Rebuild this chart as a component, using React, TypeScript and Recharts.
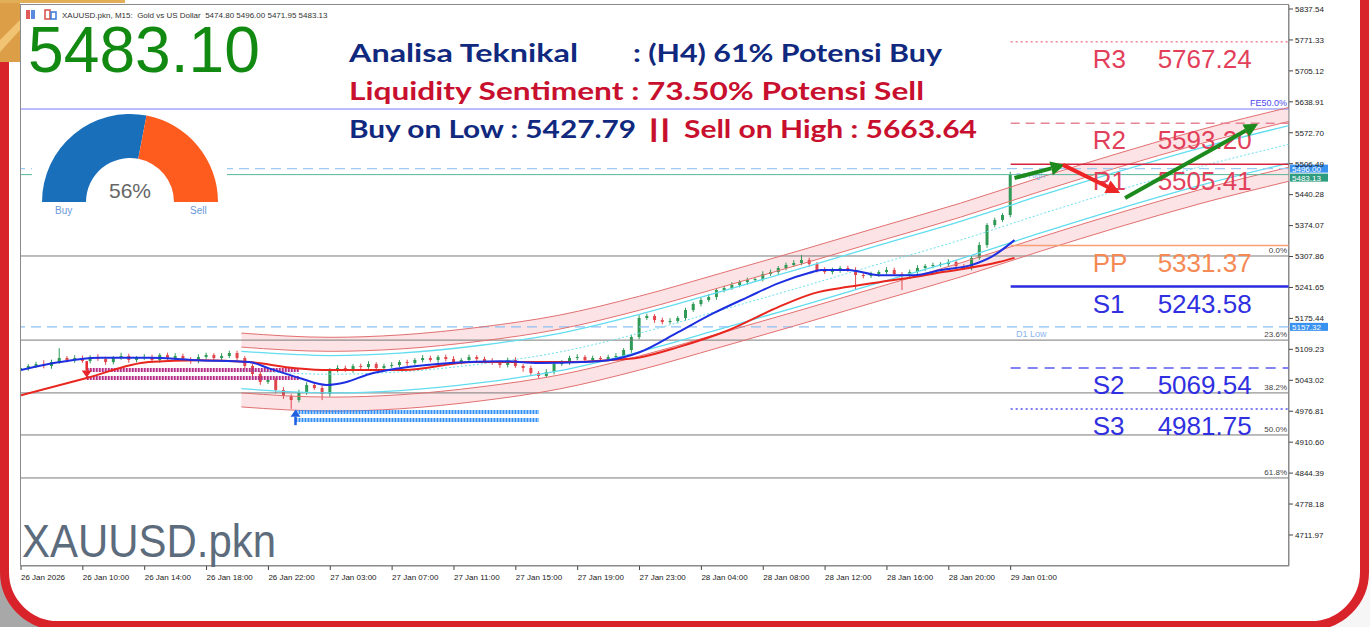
import {
  Area,
  Bar,
  Cell,
  ComposedChart,
  Line,
  Pie,
  PieChart,
  ReferenceLine,
  XAxis,
  YAxis,
} from 'recharts';

const W = 1370;
const H = 627;
const AXIS_FONT = '"Liberation Sans", Arial, sans-serif';
const TEXT_FONT = 'Lato, "Open Sans", sans-serif';

// x axis: one unit = one M15 bar, labels every 16 bars
const timeTicks = [0, 16, 32, 48, 64, 80, 96, 112, 128, 144, 160, 176, 192, 208, 224, 240, 256];
const timeLabels = [
  '26 Jan 2026', '26 Jan 10:00', '26 Jan 14:00', '26 Jan 18:00', '26 Jan 22:00',
  '27 Jan 03:00', '27 Jan 07:00', '27 Jan 11:00', '27 Jan 15:00', '27 Jan 19:00',
  '27 Jan 23:00', '28 Jan 04:00', '28 Jan 08:00', '28 Jan 12:00', '28 Jan 16:00',
  '28 Jan 20:00', '29 Jan 01:00',
];
const priceTicks = [
  5837.54, 5771.33, 5705.12, 5638.91, 5572.7, 5506.49, 5440.28, 5374.07, 5307.86,
  5241.65, 5175.44, 5109.23, 5043.02, 4976.81, 4910.6, 4844.39, 4778.18, 4711.97,
];

// closes every 2 bars (30 min)
const closes = [
  5069.3, 5073.6, 5077.8, 5073.6, 5082.1, 5090.7, 5086.4, 5090.7, 5084.3, 5092.8,
  5088.5, 5082.1, 5090.7, 5095.0, 5086.4, 5090.7, 5092.8, 5086.4, 5097.1, 5090.7,
  5095.0, 5088.5, 5084.3, 5092.8, 5097.1, 5090.7, 5095.0, 5101.4, 5090.7, 5073.6,
  5056.5, 5039.3, 5043.6, 5022.2, 5009.4, 5000.8, 5017.9, 5032.9, 5026.5, 5013.6,
  5065.0, 5069.3, 5065.0, 5073.6, 5071.4, 5077.8, 5069.3, 5073.6, 5075.7, 5082.1,
  5080.0, 5086.4, 5090.7, 5086.4, 5092.8, 5088.5, 5082.1, 5086.4, 5092.8, 5088.5,
  5084.3, 5080.0, 5075.7, 5086.4, 5073.6, 5069.3, 5058.6, 5052.2, 5060.7, 5077.8,
  5082.1, 5090.7, 5092.8, 5086.4, 5090.7, 5088.5, 5092.8, 5095.0, 5107.8, 5135.6,
  5176.3, 5180.6, 5172.0, 5167.7, 5169.9, 5176.3, 5193.4, 5206.2, 5214.8, 5221.2,
  5236.2, 5240.5, 5246.9, 5253.3, 5257.6, 5259.7, 5270.4, 5274.7, 5283.3, 5289.7,
  5294.0, 5300.4, 5291.8, 5279.0, 5274.7, 5279.0, 5283.3, 5279.0, 5268.3, 5266.2,
  5270.4, 5274.7, 5279.0, 5270.4, 5266.2, 5274.7, 5283.3, 5287.6, 5289.7, 5291.8,
  5296.1, 5287.6, 5283.3, 5304.7, 5332.5, 5375.3, 5386.0, 5396.7, 5483.1,
];
const firstOpen = 5066;
const wickUp = [
  6, 4, 5, 8, 5, 21, 4, 6, 5, 4, 6, 5, 4, 7, 5, 4, 6, 5, 4, 5,
  6, 5, 4, 6, 5, 4, 6, 5, 5, 4, 4, 6, 5, 5, 6, 4, 5, 6, 4, 5,
  4, 6, 5, 4, 5, 6, 4, 5, 6, 4, 5, 4, 6, 5, 4, 5, 6, 4, 5, 4,
  5, 6, 4, 5, 6, 4, 5, 4, 6, 5, 4, 5, 6, 4, 5, 4, 5, 6, 4, 5,
  6, 5, 4, 5, 6, 4, 5, 4, 5, 6, 4, 5, 6, 4, 5, 4, 6, 5, 4, 5,
  6, 11, 5, 4, 6, 5, 4, 5, 6, 4, 5, 4, 6, 5, 4, 5, 6, 4, 5, 4,
  6, 5, 4, 5, 6, 4, 5, 4, 6,
];
const wickDown = [
  5, 6, 4, 5, 6, 4, 5, 6, 4, 5, 4, 6, 5, 4, 6, 5, 4, 5, 6, 4,
  5, 4, 6, 5, 4, 5, 6, 4, 5, 6, 5, 6, 4, 7, 6, 19, 5, 6, 4, 13,
  6, 5, 4, 6, 5, 4, 5, 6, 4, 5, 6, 4, 5, 4, 6, 5, 4, 5, 6, 4,
  5, 4, 6, 5, 4, 8, 6, 5, 4, 5, 4, 6, 5, 4, 5, 6, 4, 5, 4, 6,
  5, 4, 6, 5, 4, 5, 6, 4, 5, 4, 6, 5, 4, 5, 6, 4, 5, 4, 6, 5,
  4, 5, 6, 5, 4, 5, 6, 4, 32, 5, 4, 6, 5, 4, 30, 5, 4, 6, 5, 4,
  6, 5, 4, 5, 4, 6, 5, 4, 5,
];

// moving averages (blue fast, red slow)
const maFastIdx = [0, 10, 20, 33, 46, 59, 64, 72, 79, 84, 90, 98, 111, 124, 134, 145, 152, 160, 170, 179, 188, 196, 204, 207, 214, 222, 231, 238, 246, 251, 257];
const maFastVal = [5065, 5082, 5091, 5091, 5086, 5082, 5069, 5048, 5033, 5039, 5056, 5069, 5080, 5084, 5080, 5082, 5086, 5103, 5146, 5186, 5221, 5251, 5273, 5279, 5279, 5268, 5268, 5279, 5290, 5307, 5343];
const maSlowIdx = [0, 17, 33, 46, 59, 71, 80, 99, 117, 141, 152, 160, 170, 183, 196, 205, 214, 222, 231, 238, 253, 257];
const maSlowVal = [5011, 5048, 5082, 5086, 5082, 5069, 5065, 5065, 5082, 5082, 5086, 5092, 5114, 5150, 5200, 5229, 5243, 5253, 5264, 5274, 5296, 5305];

// regression channel
const channelIdx = [57, 80, 98, 119, 139, 160, 181, 202, 222, 243, 264, 284, 305, 328];
const channelMid = [5065, 5056, 5061, 5078, 5103, 5144, 5193, 5243, 5292, 5343, 5399, 5450, 5500, 5548];
const bandOuter = 79;
const bandInner = 49;
const bandCyan = 40;

// pivots
const pivotNames = ['R3', 'R2', 'R1', 'PP', 'S1', 'S2', 'S3'];
const pivotValues = [5767.24, 5593.2, 5505.41, 5331.37, 5243.58, 5069.54, 4981.75];
const pivotStart = 256;

// fibonacci retracement
const fibLabels = ['0.0%', '23.6%', '38.2%', '50.0%', '61.8%'];
const fibValues = [5309, 5129, 5016, 4926, 4834];

const feLevel = 5623.5;
const dayHigh = 5496.0;
const dayLow = 5157.32;
const bidPrice = 5483.13;

// signal stripes and arrows
const stripeFrom = [17, 17, 71, 71];
const stripeTo = [72, 72, 134, 134];
const stripeLevel = [5065, 5048, 4975, 4958];
const stripeSide = ['sell', 'sell', 'buy', 'buy'];

const arrowFromX = [257, 269.5, 285.6, 17, 71];
const arrowFromY = [5476, 5504, 5433, 5084, 4947];
const arrowToX = [270, 284.3, 320, 17, 71];
const arrowToY = [5504, 5444, 5592, 5049, 4980];
const arrowKind = ['up', 'down', 'up', 'sellMark', 'buyMark'];

const gaugeNames = ['Buy', 'Sell'];
const gaugeValues = [56, 44];

const candles = closes.map((close, k) => {
  const open = k === 0 ? firstOpen : closes[k - 1];
  return {
    i: k * 2,
    open,
    close,
    high: Math.max(open, close) + wickUp[k],
    low: Math.min(open, close) - wickDown[k],
  };
});

const maFast = maFastIdx.map((i, n) => ({ i, v: maFastVal[n] }));
const maSlow = maSlowIdx.map((i, n) => ({ i, v: maSlowVal[n] }));
const channel = channelIdx.map((i, n) => {
  const m = channelMid[n];
  return {
    i,
    mid: m,
    upBand: [m + bandInner, m + bandOuter],
    dnBand: [m - bandOuter, m - bandInner],
    upOuter: m + bandOuter,
    upInner: m + bandInner,
    upCyan: m + bandCyan,
    dnCyan: m - bandCyan,
    dnInner: m - bandInner,
    dnOuter: m - bandOuter,
  };
});

function Candle(props: any) {
  const { x, y, width, height, payload } = props;
  if (!payload || x == null || y == null) return null;
  const { open, close, high, low } = payload;
  const top = Math.min(y, y + height);
  const h = Math.abs(height);
  const k = h / (high - low);
  const cx = x + width / 2;
  const yo = top + (high - open) * k;
  const yc = top + (high - close) * k;
  const col = close >= open ? '#2f9a55' : '#e0474c';
  return (
    <g>
      <line x1={cx} x2={cx} y1={top} y2={top + h} stroke={col} strokeWidth={1} />
      <rect x={x} y={Math.min(yo, yc)} width={width} height={Math.max(1, Math.abs(yc - yo))} fill={col} />
    </g>
  );
}

const arrowShape = (kind: string) => (p: any) => {
  const { x1, y1, x2, y2 } = p;
  if (x1 == null) return <g />;
  const big = kind === 'up' || kind === 'down';
  const color = kind === 'up' ? '#1c8a1c' : kind === 'down' ? '#ee2525' : kind === 'sellMark' ? '#e8262a' : '#2060e0';
  const ang = Math.atan2(y2 - y1, x2 - x1);
  const L = big ? 14 : 7;
  const hw = big ? 7 : 5;
  const c = Math.cos(ang);
  const s = Math.sin(ang);
  const bx = x2 - L * c;
  const by = y2 - L * s;
  return (
    <g>
      <line x1={x1} y1={y1} x2={bx} y2={by} stroke={color} strokeWidth={big ? 4 : 2.5} />
      <polygon points={`${x2},${y2} ${bx - hw * s},${by + hw * c} ${bx + hw * s},${by - hw * c}`} fill={color} />
    </g>
  );
};

const pivotColor = (name: string) => (name[0] === 'R' ? '#e2405a' : name === 'PP' ? '#f58a55' : '#3030e0');

const pivotStroke = (n: number) => {
  const name = pivotNames[n];
  if (name === 'R3') return { stroke: '#e8485e', dash: '2 3', w: 1 };
  if (name === 'R2') return { stroke: '#e58596', dash: '9 6', w: 1.5 };
  if (name === 'R1') return { stroke: '#d6243f', dash: undefined, w: 1.5 };
  if (name === 'PP') return { stroke: '#f6a073', dash: undefined, w: 1.5 };
  if (name === 'S1') return { stroke: '#2a2ae0', dash: undefined, w: 2.5 };
  if (name === 'S2') return { stroke: '#5a5aef', dash: '10 7', w: 1.5 };
  return { stroke: '#5050f0', dash: '2 3', w: 1.5 };
};

const pivotLabel = (name: string, value: number) => (p: any) => {
  const vb = p?.viewBox;
  if (!vb) return null;
  return (
    <g fill={pivotColor(name)} fontSize={26} fontFamily={AXIS_FONT}>
      <text x={vb.x + 82} y={vb.y + 26}>{name}</text>
      <text x={vb.x + 147} y={vb.y + 26}>{value.toFixed(2)}</text>
    </g>
  );
};

const fibLabel = (text: string) => (p: any) => {
  const vb = p?.viewBox;
  if (!vb) return null;
  return (
    <text x={vb.x + vb.width - 2} y={vb.y - 3} textAnchor="end" fontSize={8} fill="#444" fontFamily={AXIS_FONT}>
      {text}
    </text>
  );
};

const priceTag = (text: string, bg: string) => (p: any) => {
  const vb = p?.viewBox;
  if (!vb) return null;
  const x = vb.x + vb.width + 1;
  return (
    <g>
      <rect x={x} y={vb.y - 4} width={38} height={8} fill={bg} />
      <text x={x + 2} y={vb.y + 3} fontSize={8} fill="#fff" fontFamily={AXIS_FONT}>{text}</text>
    </g>
  );
};

const leftText = (text: string, dx: number, dy: number, color: string, size: number) => (p: any) => {
  const vb = p?.viewBox;
  if (!vb) return null;
  return (
    <text x={vb.x + dx} y={vb.y + dy} fontSize={size} fill={color} fontFamily={AXIS_FONT}>{text}</text>
  );
};

const rightText = (text: string, color: string) => (p: any) => {
  const vb = p?.viewBox;
  if (!vb) return null;
  return (
    <text x={vb.x + vb.width - 2} y={vb.y - 3} textAnchor="end" fontSize={9} fill={color} fontFamily={AXIS_FONT}>{text}</text>
  );
};

function TimeTick(props: any) {
  const { x, y, payload } = props;
  const n = timeTicks.indexOf(payload.value);
  return (
    <text x={x} y={y + 8} fontSize={8} fill="#222" fontFamily={AXIS_FONT} textAnchor="start">
      {timeLabels[n] ?? ''}
    </text>
  );
}

function Frame() {
  return (
    <>
      <div style={{ position: 'absolute', left: 0, top: 500, width: 90, height: 127, background: '#a8a8a8' }} />
      <div
        style={{
          position: 'absolute', left: 0, top: -40, width: 1369, height: 670, boxSizing: 'border-box',
          border: '9px solid #d9232b', borderRadius: '0 0 58px 58px', background: '#fff',
        }}
      />
      <svg width={130} height={70} style={{ position: 'absolute', left: 0, top: 0 }}>
        <rect x={0} y={0} width={20} height={62} fill="#dc9f48" />
        <polygon points="0,40 20,20 20,30 0,52" fill="#f0c472" />
        <rect x={0} y={0} width={125} height={3} fill="#e3ae58" />
      </svg>
      <div
        style={{
          position: 'absolute', left: 20, top: 4, width: 1269, height: 562,
          border: '1px solid #8a8a8a', boxSizing: 'border-box',
        }}
      />
    </>
  );
}

function PriceChart() {
  return (
    <div style={{ position: 'absolute', left: 0, top: 0 }}>
      <ComposedChart width={W} height={H} data={candles} margin={{ top: 5, right: 11, bottom: 41, left: 21 }}>
        <XAxis
          dataKey="i"
          type="number"
          domain={[0, 328]}
          allowDataOverflow
          ticks={timeTicks}
          interval={0}
          tick={<TimeTick />}
          tickSize={4}
          height={20}
          axisLine={{ stroke: '#8a8a8a' }}
          tickLine={{ stroke: '#444' }}
        />
        <YAxis
          orientation="right"
          type="number"
          domain={[4645.6, 5846.1]}
          allowDataOverflow
          ticks={priceTicks}
          interval={0}
          width={70}
          tickSize={4}
          tickFormatter={(v: number) => v.toFixed(2)}
          tick={{ fontSize: 8, fill: '#222', fontFamily: AXIS_FONT }}
          axisLine={{ stroke: '#8a8a8a' }}
          tickLine={{ stroke: '#444' }}
        />

        {fibValues.map((v, n) => (
          <ReferenceLine key={'fib' + n} y={v} stroke="#7a7a7a" strokeWidth={1} label={fibLabel(fibLabels[n])} />
        ))}
        <ReferenceLine y={feLevel} stroke="#7a7aff" strokeWidth={1.2} label={rightText('FE50.0%', '#4a4af0')} />
        <ReferenceLine y={dayLow} stroke="#8cc0f2" strokeDasharray="10 6" strokeWidth={1.2} label={leftText('D1 Low', 995, 10, '#8ab6ee', 9)} />
        <ReferenceLine y={dayLow} stroke="none" label={priceTag('5157.32', '#3a92f0')} />

        <Area data={channel} dataKey="upBand" type="monotone" fill="#fbd9de" fillOpacity={0.75} stroke="none" isAnimationActive={false} />
        <Area data={channel} dataKey="dnBand" type="monotone" fill="#fbd9de" fillOpacity={0.75} stroke="none" isAnimationActive={false} />
        {['upOuter', 'upInner', 'dnInner', 'dnOuter'].map((k) => (
          <Line key={k} data={channel} dataKey={k} type="monotone" stroke="#e27070" strokeWidth={1} dot={false} isAnimationActive={false} />
        ))}
        {['upCyan', 'dnCyan'].map((k) => (
          <Line key={k} data={channel} dataKey={k} type="monotone" stroke="#62dcef" strokeWidth={1.3} dot={false} isAnimationActive={false} />
        ))}
        <Line data={channel} dataKey="mid" type="monotone" stroke="#6fe0f0" strokeDasharray="2 2" strokeWidth={1} dot={false} isAnimationActive={false} />

        {stripeLevel.map((v, n) => (
          <ReferenceLine
            key={'st' + n}
            segment={[{ x: stripeFrom[n], y: v }, { x: stripeTo[n], y: v }]}
            stroke={stripeSide[n] === 'sell' ? '#b62c86' : '#2f8ff5'}
            strokeWidth={4}
            strokeDasharray="2 1"
          />
        ))}

        <Bar dataKey={(d: any) => [d.low, d.high]} barSize={3} shape={(p: any) => <Candle {...p} />} isAnimationActive={false} />

        <Line data={maSlow} dataKey="v" type="monotone" stroke="#e8261e" strokeWidth={2} dot={false} isAnimationActive={false} />
        <Line data={maFast} dataKey="v" type="monotone" stroke="#1d2fe0" strokeWidth={2} dot={false} isAnimationActive={false} />

        <ReferenceLine y={dayHigh} stroke="#9ccaf3" strokeDasharray="10 6" strokeWidth={1.3} label={leftText('D1 High', 995, 9, '#8ab6ee', 8)} />
        <ReferenceLine y={bidPrice} stroke="#55b89a" strokeWidth={1} />
        <ReferenceLine y={dayHigh} stroke="none" label={priceTag('5496.00', '#3a92f0')} />
        <ReferenceLine y={bidPrice} stroke="none" label={(p: any) => {
          const vb = p?.viewBox;
          if (!vb) return null;
          return priceTag('5483.13', '#2e9c80')({ viewBox: { ...vb, y: vb.y + 3 } });
        }} />

        {pivotValues.map((v, n) => {
          const st = pivotStroke(n);
          return (
            <ReferenceLine
              key={'pv' + n}
              segment={[{ x: pivotStart, y: v }, { x: 328, y: v }]}
              stroke={st.stroke}
              strokeDasharray={st.dash}
              strokeWidth={st.w}
              label={pivotLabel(pivotNames[n], v)}
            />
          );
        })}

        {arrowKind.map((k, n) => (
          <ReferenceLine
            key={'ar' + n}
            segment={[{ x: arrowFromX[n], y: arrowFromY[n] }, { x: arrowToX[n], y: arrowToY[n] }]}
            shape={arrowShape(k)}
          />
        ))}
      </ComposedChart>
    </div>
  );
}

function Gauge() {
  const data = gaugeNames.map((name, n) => ({ name, value: gaugeValues[n] }));
  return (
    <div style={{ position: 'absolute', left: 32, top: 110, width: 195, height: 107, background: '#fff' }}>
      <PieChart width={195} height={107} margin={{ top: 0, right: 0, bottom: 0, left: 0 }}>
        <Pie
          data={data}
          dataKey="value"
          cx={98}
          cy={92}
          startAngle={180}
          endAngle={0}
          innerRadius={44}
          outerRadius={88}
          stroke="none"
          isAnimationActive={false}
        >
          <Cell fill="#1a6fba" />
          <Cell fill="#fe5b1e" />
        </Pie>
      </PieChart>
    </div>
  );
}

function Overlay() {
  const navy = '#10297e';
  const red = '#c8102e';
  return (
    <svg width={W} height={H} style={{ position: 'absolute', left: 0, top: 0, pointerEvents: 'none' }}>
      {/* toolbar icons */}
      <rect x={26} y={10} width={4} height={9} fill="#e05a5a" />
      <rect x={31} y={10} width={4} height={9} fill="#5a8ae0" />
      <rect x={45} y={10} width={5} height={9} fill="none" stroke="#d84a4a" strokeWidth={1.5} />
      <rect x={51} y={12} width={5} height={7} fill="none" stroke="#3a7ad8" strokeWidth={1.5} />
      <text x={62} y={18} fontSize={8} fill="#333" fontFamily={AXIS_FONT} style={{ whiteSpace: 'pre' }}>
        {'XAUUSD.pkn, M15:  Gold vs US Dollar  5474.80 5496.00 5471.95 5483.13'}
      </text>

      <text x={28} y={72} fontSize={65} fill="#128a12" fontFamily={AXIS_FONT} textLength={232} lengthAdjust="spacingAndGlyphs">
        5483.10
      </text>

      <g fontFamily={TEXT_FONT} fontWeight={700} fontSize={25} style={{ whiteSpace: 'pre' }}>
        <text x={349} y={62} fill={navy} textLength={229} lengthAdjust="spacingAndGlyphs">Analisa Teknikal</text>
        <text x={633} y={62} fill={navy} textLength={309} lengthAdjust="spacingAndGlyphs">: (H4) 61% Potensi Buy</text>
        <text x={349} y={100} fill={red} textLength={575} lengthAdjust="spacingAndGlyphs">{'Liquidity Sentiment :  73.50% Potensi Sell'}</text>
        <text x={349} y={138} fill={navy} textLength={287} lengthAdjust="spacingAndGlyphs">Buy on Low : 5427.79</text>
        <text x={648} y={138} fill={red} textLength={23} lengthAdjust="spacingAndGlyphs">||</text>
        <text x={684} y={138} fill={red} textLength={293} lengthAdjust="spacingAndGlyphs">Sell on High : 5663.64</text>
      </g>

      <text x={130} y={198} textAnchor="middle" fontSize={21} fill="#666" fontFamily={AXIS_FONT}>56%</text>
      <text x={55} y={214} fontSize={10} fill="#6b9ad8" fontFamily={AXIS_FONT}>{gaugeNames[0]}</text>
      <text x={190} y={214} fontSize={10} fill="#6b9ad8" fontFamily={AXIS_FONT}>{gaugeNames[1]}</text>

      <text x={22} y={557} fontSize={46} fill="#5d6c7c" fontFamily={AXIS_FONT} textLength={254} lengthAdjust="spacingAndGlyphs">
        XAUUSD.pkn
      </text>
    </svg>
  );
}

export default function App() {
  return (
    <div style={{ position: 'absolute', left: 0, top: 0, width: W, height: H, overflow: 'hidden', background: '#f6f6f6' }}>
      <Frame />
      <PriceChart />
      <Gauge />
      <Overlay />
    </div>
  );
}
